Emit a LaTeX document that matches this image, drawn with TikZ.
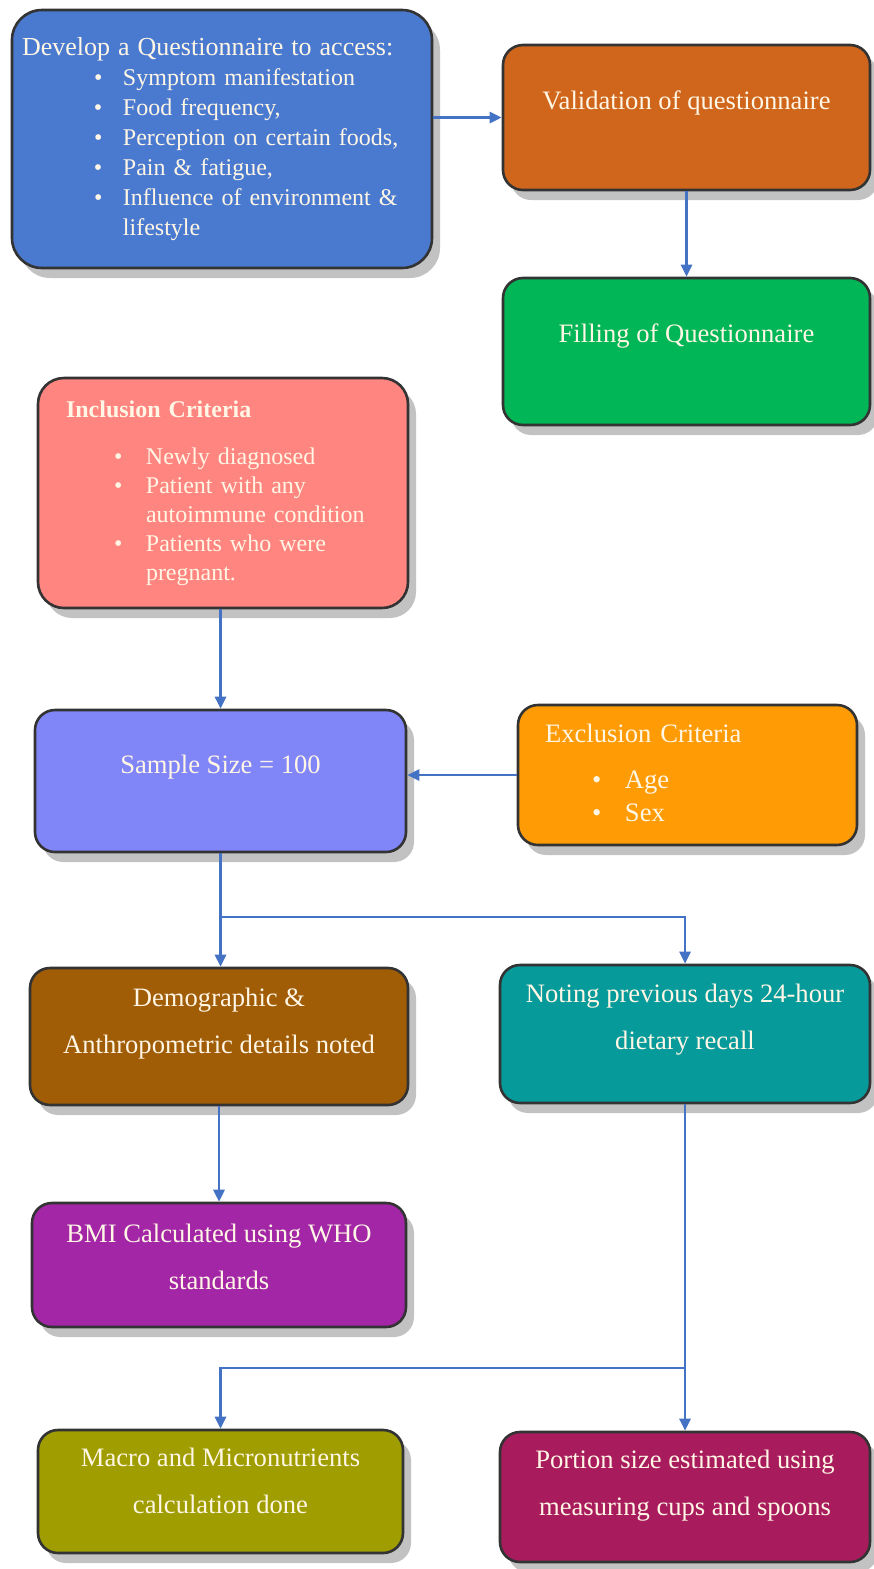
\documentclass[tikz,border=0pt]{standalone}
\usepackage{fontspec}
\setmainfont{Liberation Serif}
\usepackage{xcolor}
\usepackage{tikz}
\usetikzlibrary{arrows.meta, positioning, calc, shadows}

\definecolor{qblue}{HTML}{4A7AD0}
\definecolor{qorange}{HTML}{D0661C}
\definecolor{qgreen}{HTML}{00B656}
\definecolor{qsalmon}{HTML}{FF8580}
\definecolor{qperi}{HTML}{8085F8}
\definecolor{qamber}{HTML}{FF9C05}
\definecolor{qbrown}{HTML}{A15C06}
\definecolor{qteal}{HTML}{069A9A}
\definecolor{qpurple}{HTML}{A226A6}
\definecolor{qolive}{HTML}{9F9D00}
\definecolor{qmaroon}{HTML}{A81C5E}
\definecolor{arrblue}{HTML}{4472C4}
\definecolor{txtcol}{HTML}{FFF6E5}

\begin{document}
\begin{tikzpicture}[x=0.5pt, y=-0.5pt,
  flowbox/.style = {rectangle, draw=black!80, line width=1.3pt, rounded corners=10pt,
                    text=txtcol, align=center, font=\fontsize{13.3}{23.5}\selectfont,
                    drop shadow={shadow xshift=4pt, shadow yshift=-5pt,
                                 fill=black!60, opacity=.4}},
  flow/.style = {-{Triangle[length=6pt,width=5.5pt]}, line width=1.3pt, arrblue},
]
  \useasboundingbox (0,0) rectangle (873,1569);

  \node[flowbox, fill=qblue, rounded corners=15pt, minimum height=129pt,
        text width=200pt, inner xsep=5pt, align=left,
        font=\fontsize{12}{15}\selectfont] (dev) at (222,139) {%
    \begin{tabular}{@{\hspace{36pt}}p{14.5pt}@{}l@{}}
      \multicolumn{2}{@{}l@{}}{\fontsize{13}{15}\selectfont Develop a Questionnaire to access:}\\
      \textbullet & Symptom manifestation\\
      \textbullet & Food frequency,\\
      \textbullet & Perception on certain foods,\\
      \textbullet & Pain \& fatigue,\\
      \textbullet & Influence of environment \&\\
                  & lifestyle
    \end{tabular}};
  \node[flowbox, fill=qorange, minimum width=183.5pt, minimum height=72.5pt,
        text depth=17.3pt] (valid) at (686.5,117.5) {Validation of questionnaire};
  \node[flowbox, fill=qgreen, minimum width=183.5pt, minimum height=73.5pt,
        text depth=18.3pt] (fill) at (686.5,351.5) {Filling of Questionnaire};

  \node[flowbox, fill=qsalmon, rounded corners=13pt, minimum height=115pt,
        text width=175pt, inner xsep=5pt, align=left,
        font=\fontsize{12}{14.5}\selectfont] (incl) at (223,493) {%
    \begin{tabular}{@{\hspace{33pt}}p{16pt}@{}l@{}}
      \multicolumn{2}{@{\hspace{9pt}}l@{}}{\textbf{Inclusion Criteria}}\\[9pt]
      \textbullet & Newly diagnosed\\
      \textbullet & Patient with any\\
                  & autoimmune condition\\
      \textbullet & Patients who were\\
                  & pregnant.
    \end{tabular}};

  \node[flowbox, fill=qperi, minimum width=185.5pt, minimum height=71pt,
        text depth=16.3pt] (sample) at (220.5,781) {Sample Size = 100};
  \node[flowbox, fill=qamber, minimum height=70pt, text width=159.5pt,
        inner xsep=5pt, align=left,
        font=\fontsize{13.3}{16.5}\selectfont] (excl) at (687.5,775) {%
    \begin{tabular}{@{\hspace{32pt}}p{16.5pt}@{}l@{}}
      \multicolumn{2}{@{\hspace{8.5pt}}l@{}}{Exclusion Criteria}\\[6.5pt]
      \textbullet & Age\\
      \textbullet & Sex
    \end{tabular}};

  \node[flowbox, fill=qbrown, minimum width=189pt, minimum height=68.5pt,
        text depth=15.3pt] (demo) at (219,1036.5)
        {Demographic \&\\Anthropometric details noted};
  \node[flowbox, fill=qteal, minimum width=185pt, minimum height=69pt,
        text depth=17.3pt] (noting) at (685,1034)
        {Noting previous days 24-hour\\dietary recall};
  \node[flowbox, fill=qpurple, minimum width=187pt, minimum height=62pt,
        text depth=8.3pt] (bmi) at (219,1265)
        {BMI Calculated using WHO\\standards};
  \node[flowbox, fill=qolive, minimum width=182.5pt, minimum height=61.5pt,
        text depth=10.3pt] (macro) at (220.5,1491.5)
        {Macro and Micronutrients\\calculation done};
  \node[flowbox, fill=qmaroon, minimum width=185pt, minimum height=65pt,
        text depth=14.3pt] (portion) at (685,1497)
        {Portion size estimated using\\measuring cups and spoons};

  % connectors
  \coordinate (split1) at (220.5,917);
  \coordinate (split2) at (685,1368);

  \draw[flow] (dev.east |- valid.west) -- (valid.west);
  \draw[flow] (valid) -- (fill);
  \draw[flow] (incl.south -| sample.north) -- (sample.north);
  \draw[flow] (excl.west) -- (excl.west -| sample.east);
  \draw[flow] (sample.south) -- (sample.south |- demo.north);
  \draw[flow] (split1) -| (noting.north);
  \draw[flow] (demo) -- (bmi);
  \draw[flow] (noting) -- (portion);
  \draw[flow] (split2) -| (macro.north);
\end{tikzpicture}
\end{document}
